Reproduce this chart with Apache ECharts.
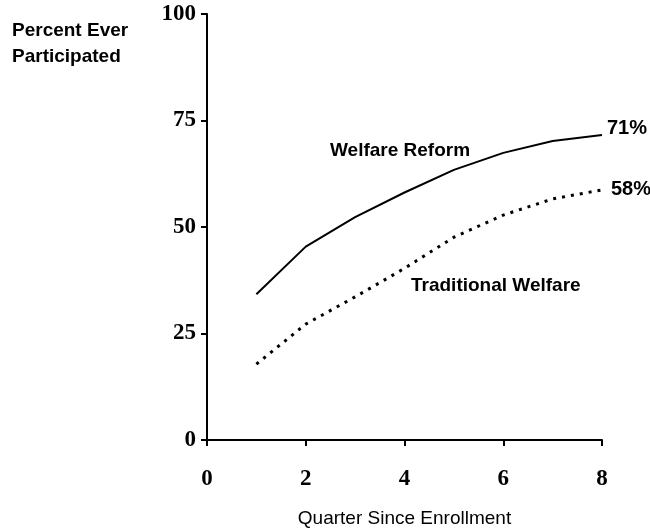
<!DOCTYPE html>
<html>
<head>
<meta charset="utf-8">
<style>html,body{margin:0;padding:0;background:#fff;}#chart{width:650px;height:531px;}</style>
<script src="https://cdn.jsdelivr.net/npm/echarts@6/dist/echarts.min.js"></script>
</head>
<body>
<div id="chart"></div>
<script>
var quarters = [1, 2, 3, 4, 5, 6, 7, 8];
var welfareReform = [34.2, 45.4, 52.3, 58.1, 63.4, 67.4, 70.2, 71.6];
var traditionalWelfare = [17.8, 27.2, 33.6, 40.3, 47.6, 52.8, 56.6, 58.7];
var endLabels = ['71%', '58%'];
var seriesNames = ['Welfare Reform', 'Traditional Welfare'];
var yTicks = [0, 25, 50, 75, 100];
var xTicks = [0, 2, 4, 6, 8];

function pairs(xs, ys) { return xs.map(function (x, i) { return [x, ys[i]]; }); }

var chart = echarts.init(document.getElementById('chart'), null, {renderer: 'canvas'});
var sansBold = {fontFamily: 'Liberation Sans, Arial, sans-serif', fontWeight: 'bold', fontSize: 19, color: '#000'};
chart.setOption({
  animation: false,
  backgroundColor: '#fff',
  grid: {left: 207, right: 48, top: 14, bottom: 91, containLabel: false, outerBoundsMode: 'none'},
  xAxis: {
    type: 'value', min: 0, max: 8, interval: 2,
    name: 'Quarter Since Enrollment', nameLocation: 'middle', nameGap: 69,
    nameTextStyle: {fontFamily: 'Liberation Sans, Arial, sans-serif', fontSize: 19, color: '#000'},
    axisLine: {show: true, lineStyle: {color: '#000', width: 2}},
    axisTick: {show: true, length: 6, lineStyle: {color: '#000', width: 2}},
    splitLine: {show: false},
    axisLabel: {margin: 28, fontFamily: 'Liberation Serif, Times New Roman, serif', fontWeight: 'bold', fontSize: 23, color: '#000',
      formatter: function (v) { return xTicks.indexOf(v) >= 0 ? String(v) : ''; }}
  },
  yAxis: {
    type: 'value', min: 0, max: 100, interval: 25,
    axisLine: {show: true, lineStyle: {color: '#000', width: 2}},
    axisTick: {show: true, length: 6, lineStyle: {color: '#000', width: 2}},
    splitLine: {show: false},
    axisLabel: {margin: 11, fontFamily: 'Liberation Serif, Times New Roman, serif', fontWeight: 'bold', fontSize: 23, color: '#000',
      formatter: function (v) { return yTicks.indexOf(v) >= 0 ? String(v) : ''; }}
  },
  series: [
    {
      name: seriesNames[0], type: 'line', data: pairs(quarters, welfareReform),
      symbol: 'none', lineStyle: {color: '#000', width: 2},
      endLabel: {show: true, formatter: endLabels[0], distance: 5, offset: [0, -6],
        fontFamily: sansBold.fontFamily, fontWeight: 'bold', fontSize: 20, color: '#000'}
    },
    {
      name: seriesNames[1], type: 'line', data: pairs(quarters, traditionalWelfare),
      symbol: 'none', lineStyle: {color: '#000', width: 3, type: [3, 6], cap: 'butt'},
      endLabel: {show: true, formatter: endLabels[1], distance: 9, offset: [0, 0],
        fontFamily: sansBold.fontFamily, fontWeight: 'bold', fontSize: 20, color: '#000'}
    }
  ],
  graphic: [
    {type: 'text', left: 12, top: 18, style: Object.assign({text: 'Percent Ever\nParticipated', align: 'center', lineHeight: 26, x: 59}, sansBold)},
    {type: 'text', left: 330, top: 141, style: Object.assign({text: seriesNames[0]}, sansBold)},
    {type: 'text', left: 411, top: 276, style: Object.assign({text: seriesNames[1]}, sansBold)}
  ]
});
</script>
</body>
</html>
